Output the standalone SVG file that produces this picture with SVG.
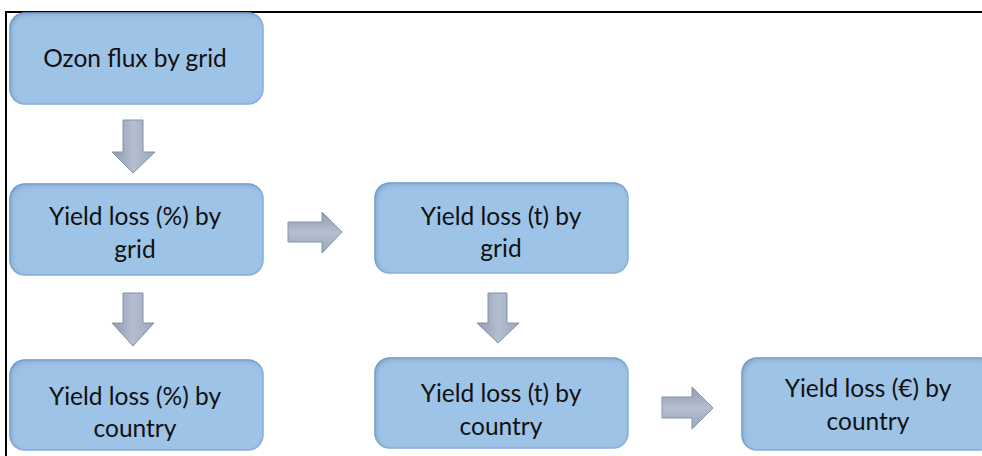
<svg xmlns="http://www.w3.org/2000/svg" width="982" height="456" viewBox="0 0 982 456">
  <defs>
    <linearGradient id="arrV" x1="0" y1="0" x2="1" y2="0">
      <stop offset="0" stop-color="#8E9AAE"/>
      <stop offset="0.5" stop-color="#B4BFD0"/>
      <stop offset="1" stop-color="#9AA6BA"/>
    </linearGradient>
    <linearGradient id="arrH" x1="0" y1="0" x2="0" y2="1">
      <stop offset="0" stop-color="#8E9AAE"/>
      <stop offset="0.5" stop-color="#B4BFD0"/>
      <stop offset="1" stop-color="#9AA6BA"/>
    </linearGradient>
    <filter id="inner" x="-5%" y="-5%" width="110%" height="110%">
      <feGaussianBlur in="SourceAlpha" stdDeviation="2.5" result="b"/>
      <feOffset dx="2" dy="2" result="o"/>
      <feComposite in="SourceAlpha" in2="o" operator="out" result="edge"/>
      <feFlood flood-color="#4F7BA8" flood-opacity="0.55"/>
      <feComposite in2="edge" operator="in" result="sh"/>
      <feMerge><feMergeNode in="SourceGraphic"/><feMergeNode in="sh"/></feMerge>
    </filter>
  </defs>
  <style>
    .box { fill: #9DC3E6; stroke: #8DB3DA; stroke-width: 1.5; filter: url(#inner); }
    .lbl { font-family: Lato, "Liberation Sans", sans-serif; font-size: 24.5px; fill: #111111; text-anchor: middle; }
    .av { fill: url(#arrV); stroke: #8592A8; stroke-width: 1; }
    .ah { fill: url(#arrH); stroke: #8592A8; stroke-width: 1; }
    .frame { stroke: #000000; stroke-width: 2; fill: none; }
  </style>
  <rect width="982" height="456" fill="#FFFFFF"/>
  <path class="frame" d="M6,456 V12 H982"/>

  <g id="connectors">
    <path class="av" d="M123,120 H143 V152 H155 L133,173 L112,152 H123 Z"/>
    <path class="av" d="M123,293 H143 V323 H154 L133,346 L112,323 H123 Z"/>
    <path class="ah" d="M288,222 H322 V212 L342,232 L322,253 V242 H288 Z"/>
    <path class="av" d="M488,293 H507 V323 H519 L498,343 L477,323 H488 Z"/>
    <path class="ah" d="M662,397 H692 V387 L713,408 L692,429 V418 H662 Z"/>
  </g>

  <g id="ozon-flux-grid">
    <rect class="box" x="10" y="13" width="253" height="91" rx="15"/>
    <text class="lbl" x="135" y="67">Ozon flux by grid</text>
  </g>
  <g id="yield-pct-grid">
    <rect class="box" x="10" y="184" width="253" height="91" rx="15"/>
    <text class="lbl" x="135" y="225">Yield loss (%) by</text>
    <text class="lbl" x="135" y="258">grid</text>
  </g>
  <g id="yield-t-grid">
    <rect class="box" x="375" y="183" width="253" height="90" rx="15"/>
    <text class="lbl" x="501" y="225">Yield loss (t) by</text>
    <text class="lbl" x="501" y="257">grid</text>
  </g>
  <g id="yield-pct-country">
    <rect class="box" x="10" y="360" width="253" height="90" rx="15"/>
    <text class="lbl" x="135" y="405">Yield loss (%) by</text>
    <text class="lbl" x="135" y="437">country</text>
  </g>
  <g id="yield-t-country">
    <rect class="box" x="375" y="358" width="253" height="90" rx="15"/>
    <text class="lbl" x="501" y="402">Yield loss (t) by</text>
    <text class="lbl" x="501" y="435">country</text>
  </g>
  <g id="yield-eur-country">
    <rect class="box" x="742" y="358" width="253" height="92" rx="15"/>
    <text class="lbl" x="868" y="397">Yield loss (€) by</text>
    <text class="lbl" x="868" y="430">country</text>
  </g>
</svg>
